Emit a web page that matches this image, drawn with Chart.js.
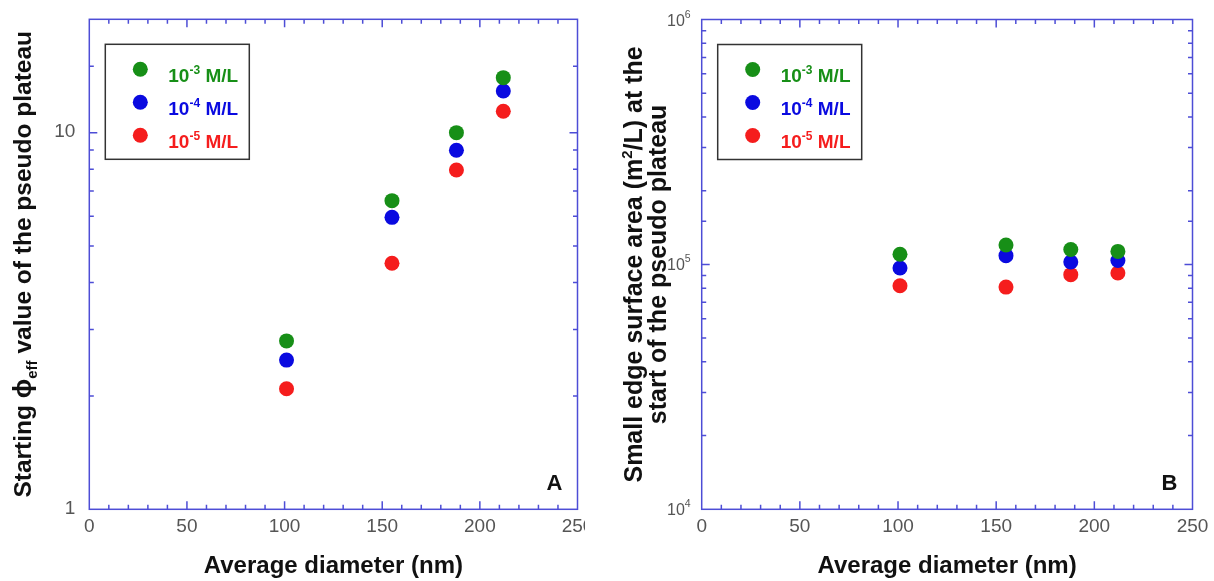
<!DOCTYPE html>
<html lang="en">
<head>
  <meta charset="UTF-8" />
  <title>Pseudo plateau vs. average diameter</title>
  <script src="https://cdn.jsdelivr.net/npm/chart.js"></script>
  <style>
    body { margin: 0; background: #fff; }
    #wrap { position: relative; width: 1214px; height: 581px; overflow: hidden; }
    canvas { position: absolute; top: 0; }
    #chartA { left: 0; }
    #chartB { left: 585px; }
  </style>
</head>
<body>
  <div id="wrap">
    <canvas id="chartA" width="585" height="581"></canvas>
    <canvas id="chartB" width="629" height="581"></canvas>
  </div>

  <script>
    // values
    const diameters = [101, 155, 188, 212];          // nm
    const concExponents = ['-3', '-4', '-5'];          // 10^x M/L
    const concColors = ['#178f17', '#0a0ae0', '#f51d1d'];
    const xLabelTicks = [0, 50, 100, 150, 200, 250];

    // panel A : starting phi_eff of the pseudo plateau
    const phiConc3 = [2.80, 6.60, 10.0, 14.0];
    const phiConc4 = [2.49, 5.96, 8.98, 12.9];
    const phiConc5 = [2.09, 4.50, 7.96, 11.4];

    // panel B : small edge surface area (m2/L)
    const areaConc3 = [110000, 120000, 115000, 113000];
    const areaConc4 = [96700, 108600, 102300, 103800];
    const areaConc5 = [81800, 80800, 90800, 92200];

    const FAMILY = '"Liberation Sans", Arial, sans-serif';
    const FRAME = '#4d4dd6';
    const bold = s => 'bold ' + s + 'px ' + FAMILY;
    const plain = s => s + 'px ' + FAMILY;

    function drawRuns(ctx, runs, x, y, align) {
      let w = 0;
      runs.forEach(r => { ctx.font = r.font; w += ctx.measureText(r.t).width; });
      let cx = align === 'center' ? x - w / 2 : align === 'right' ? x - w : x;
      ctx.textAlign = 'left';
      ctx.textBaseline = 'alphabetic';
      runs.forEach(r => {
        ctx.font = r.font;
        ctx.fillText(r.t, cx, y + (r.dy || 0));
        cx += ctx.measureText(r.t).width;
      });
    }

    const isPow10 = v => Math.abs(Math.log10(v) - Math.round(Math.log10(v))) < 1e-9;

    function decorPlugin(cfg) {
      return {
        id: 'decor',
        afterDraw(chart) {
          const ctx = chart.ctx;
          const a = chart.chartArea;
          const xs = chart.scales.x, ys = chart.scales.y;
          ctx.save();

          // frame + inward ticks
          ctx.strokeStyle = FRAME;
          ctx.lineWidth = 1.5;
          ctx.strokeRect(a.left, a.top, a.right - a.left, a.bottom - a.top);
          ctx.beginPath();
          xs.ticks.forEach(t => {
            if (t.value <= xs.min || t.value >= xs.max) return;
            const px = xs.getPixelForValue(t.value);
            const len = t.value % 50 === 0 ? 8 : 4.5;
            ctx.moveTo(px, a.bottom); ctx.lineTo(px, a.bottom - len);
            ctx.moveTo(px, a.top); ctx.lineTo(px, a.top + len);
          });
          ys.ticks.forEach(t => {
            if (t.value <= ys.min || t.value >= ys.max) return;
            const py = ys.getPixelForValue(t.value);
            const len = isPow10(t.value) ? 8 : 4.5;
            ctx.moveTo(a.left, py); ctx.lineTo(a.left + len, py);
            ctx.moveTo(a.right, py); ctx.lineTo(a.right - len, py);
          });
          ctx.stroke();

          // y tick labels (powers of ten only)
          ctx.fillStyle = '#555';
          ys.ticks.filter(t => isPow10(t.value)).forEach(t => {
            const py = ys.getPixelForValue(t.value);
            if (cfg.expLabels) {
              const e = String(Math.round(Math.log10(t.value)));
              drawRuns(ctx, [{ t: '10', font: plain(16) }, { t: e, font: plain(10.5), dy: -8 }],
                a.left - 11, py + 6, 'right');
            } else {
              ctx.font = plain(19);
              ctx.textAlign = 'right';
              ctx.textBaseline = 'middle';
              ctx.fillText(String(t.value), a.left - 14, py - 1);
            }
          });

          // legend box
          const bx = a.left + 16, by = a.top + 25;
          ctx.strokeStyle = '#333';
          ctx.lineWidth = 1.5;
          ctx.strokeRect(bx, by, 144, 115);
          chart.data.datasets.forEach((ds, i) => {
            ctx.fillStyle = ds.backgroundColor;
            ctx.beginPath();
            ctx.arc(bx + 35, by + 25 + i * 33, 7.5, 0, Math.PI * 2);
            ctx.fill();
            drawRuns(ctx, [
              { t: '10', font: bold(19) },
              { t: ds.exponent, font: bold(12), dy: -8 },
              { t: ' M/L', font: bold(19) }
            ], bx + 63, by + 37.5 + i * 33, 'left');
          });

          // panel letter
          ctx.fillStyle = '#111';
          ctx.font = bold(22);
          ctx.textAlign = 'right';
          ctx.textBaseline = 'alphabetic';
          ctx.fillText(cfg.letter, a.right - 15, a.bottom - 19.5);

          // x title
          drawRuns(ctx, [{ t: 'Average diameter (nm)', font: bold(24) }],
            (a.left + a.right) / 2, 573, 'center');

          // y title (rotated)
          const cy = (a.top + a.bottom) / 2;
          cfg.yTitle.forEach(line => {
            ctx.save();
            ctx.translate(line.x, cy);
            ctx.rotate(-Math.PI / 2);
            drawRuns(ctx, line.runs, 0, 0, 'center');
            ctx.restore();
          });

          ctx.restore();
        }
      };
    }

    function buildChart(id, cfg) {
      const canvas = document.getElementById(id);
      const W = canvas.width, H = canvas.height;
      const area = cfg.area;
      return new Chart(canvas, {
        type: 'scatter',
        data: {
          datasets: cfg.series.map((vals, i) => ({
            label: '10^' + concExponents[i] + ' M/L',
            exponent: concExponents[i],
            data: diameters.map((d, j) => ({ x: d, y: vals[j] })),
            backgroundColor: concColors[i],
            borderWidth: 0,
            pointRadius: 7.5,
            pointHoverRadius: 7.5
          }))
        },
        options: {
          responsive: false,
          animation: false,
          events: [],
          layout: { padding: { left: 0, top: area.top, right: W - area.right, bottom: 0 } },
          plugins: { legend: { display: false }, tooltip: { enabled: false } },
          scales: {
            x: {
              type: 'linear', min: 0, max: 250,
              grid: { display: false, drawTicks: false },
              border: { display: false },
              ticks: {
                stepSize: 10, maxTicksLimit: 30, autoSkip: false, maxRotation: 0,
                padding: 6, color: '#555', font: { family: FAMILY, size: 19 },
                callback: v => xLabelTicks.includes(v) ? String(v) : ''
              },
              afterFit: s => { s.height = H - area.bottom; s.paddingLeft = 0; s.paddingRight = 0; }
            },
            y: {
              type: 'logarithmic', min: cfg.yMin, max: cfg.yMax,
              grid: { display: false, drawTicks: false },
              border: { display: false },
              ticks: { display: false },
              afterFit: s => { s.width = area.left; s.paddingTop = 0; s.paddingBottom = 0; }
            }
          }
        },
        plugins: [decorPlugin(cfg)]
      });
    }

    buildChart('chartA', {
      series: [phiConc3, phiConc4, phiConc5],
      yMin: 1, yMax: 20,
      area: { left: 89.3, right: 580.5, top: 19.3, bottom: 509.3 },
      letter: 'A',
      expLabels: false,
      yTitle: [{
        x: 31,
        runs: [
          { t: 'Starting ', font: bold(24.5) },
          { t: '\u03D5', font: bold(26) },
          { t: 'eff', font: bold(15), dy: 6 },
          { t: ' value of the pseudo plateau', font: bold(24.5) }
        ]
      }]
    });

    buildChart('chartB', {
      series: [areaConc3, areaConc4, areaConc5],
      yMin: 10000, yMax: 1000000,
      area: { left: 116.7, right: 607.5, top: 19.5, bottom: 509.3 },
      letter: 'B',
      expLabels: true,
      yTitle: [
        {
          x: 57,
          runs: [
            { t: 'Small edge surface area (m', font: bold(25) },
            { t: '2', font: bold(15), dy: -10 },
            { t: '/L) at the', font: bold(25) }
          ]
        },
        { x: 81, runs: [{ t: 'start of the pseudo plateau', font: bold(25) }] }
      ]
    });
  </script>
</body>
</html>
